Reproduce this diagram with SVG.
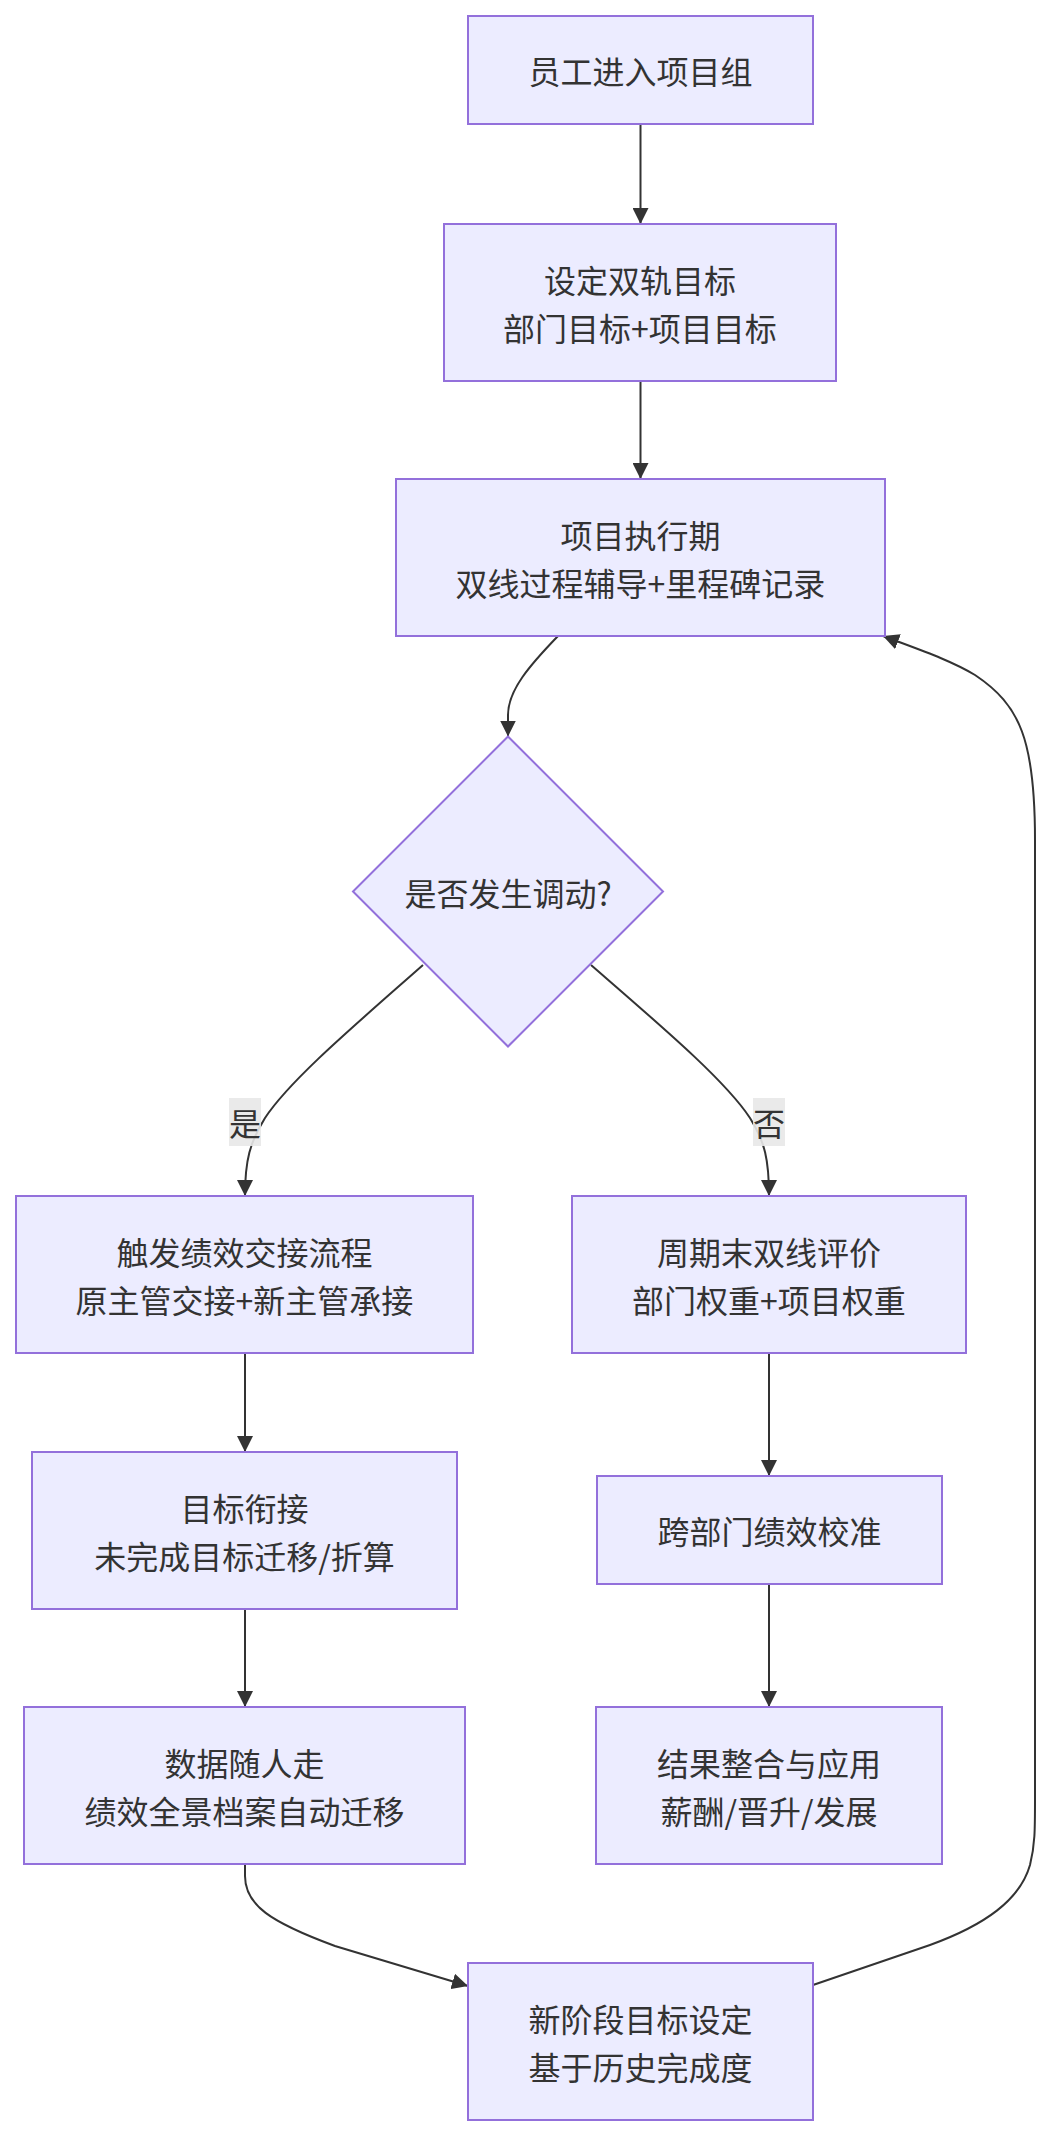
<svg xmlns="http://www.w3.org/2000/svg" width="1051" height="2135" viewBox="0 0 1051 2135">
<style>
.node rect, .node polygon { fill: #ECECFF; stroke: #9370DB; stroke-width: 2; }
.node text, .lbl text { font-family: "Noto Sans CJK SC", "Liberation Sans", sans-serif; font-size: 32px; fill: #333333; text-anchor: middle; dominant-baseline: central; }
.edges path { fill: none; stroke: #333333; stroke-width: 2; marker-end: url(#arrow); }
.lbl rect { fill: #e8e8e8; fill-opacity: 0.9; }
</style>
<defs>
<marker id="arrow" viewBox="0 0 10 10" refX="10" refY="5" markerWidth="16" markerHeight="16" markerUnits="userSpaceOnUse" orient="auto">
<path d="M0,0 L10,5 L0,10 z" fill="#333333"/>
</marker>
</defs>
<rect width="1051" height="2135" fill="#ffffff"/>
<g id="connectors" class="edges">
<path d="M640.5,124 L640.5,224"/>
<path d="M640.5,380 L640.5,479"/>
<path d="M558,636 C530,665 508,690 508,715 L508,736.5"/>
<path d="M423,965 C355,1025 290,1080 265,1118 C250,1142 245,1160 245,1196"/>
<path d="M591,965 C660,1025 725,1080 750,1118 C765,1142 769,1160 769,1196"/>
<path d="M245,1352 L245,1452"/>
<path d="M245,1608 L245,1707"/>
<path d="M769,1352 L769,1476"/>
<path d="M769,1584 L769,1707"/>
<path d="M245,1864 L245,1876 C245,1905 270,1922 335,1946 L468,1986"/>
<path d="M813,1985 L930,1945 C985,1925 1020,1900 1030,1865 C1035,1845 1035,1830 1035,1800 L1035,840 C1035,740 1020,705 975,675 C950,660 920,650 883,636"/>
</g>
<g id="edge-labels">
<g class="lbl" id="label-yes"><rect x="229" y="1098" width="32" height="48"/><text x="245" y="1122">是</text></g>
<g class="lbl" id="label-no"><rect x="753" y="1098" width="32" height="48"/><text x="769" y="1122">否</text></g>
</g>
<g id="n1" class="node"><rect x="468" y="16" width="345" height="108"/><text x="640.5" y="70">员工进入项目组</text></g>
<g id="n2" class="node"><rect x="444" y="224" width="392" height="157"/><text x="640" y="278.5">设定双轨目标</text><text x="640" y="326.5">部门目标+项目目标</text></g>
<g id="n3" class="node"><rect x="396" y="479" width="489" height="157"/><text x="640.5" y="533.5">项目执行期</text><text x="640.5" y="581.5">双线过程辅导+里程碑记录</text></g>
<g id="d1" class="node"><polygon points="508,736.5 663,891.5 508,1046.5 353,891.5"/><text x="508" y="891.5">是否发生调动?</text></g>
<g id="n4" class="node"><rect x="16" y="1196" width="457" height="157"/><text x="244.5" y="1250.5">触发绩效交接流程</text><text x="244.5" y="1298.5">原主管交接+新主管承接</text></g>
<g id="n5" class="node"><rect x="572" y="1196" width="394" height="157"/><text x="769" y="1250.5">周期末双线评价</text><text x="769" y="1298.5">部门权重+项目权重</text></g>
<g id="n6" class="node"><rect x="32" y="1452" width="425" height="157"/><text x="244.5" y="1506.5">目标衔接</text><text x="244.5" y="1554.5">未完成目标迁移/折算</text></g>
<g id="n7" class="node"><rect x="597" y="1476" width="345" height="108"/><text x="769.5" y="1530">跨部门绩效校准</text></g>
<g id="n8" class="node"><rect x="24" y="1707" width="441" height="157"/><text x="244.5" y="1761.5">数据随人走</text><text x="244.5" y="1809.5">绩效全景档案自动迁移</text></g>
<g id="n9" class="node"><rect x="596" y="1707" width="346" height="157"/><text x="769" y="1761.5">结果整合与应用</text><text x="769" y="1809.5">薪酬/晋升/发展</text></g>
<g id="n10" class="node"><rect x="468" y="1963" width="345" height="157"/><text x="640.5" y="2017.5">新阶段目标设定</text><text x="640.5" y="2065.5">基于历史完成度</text></g>
</svg>
